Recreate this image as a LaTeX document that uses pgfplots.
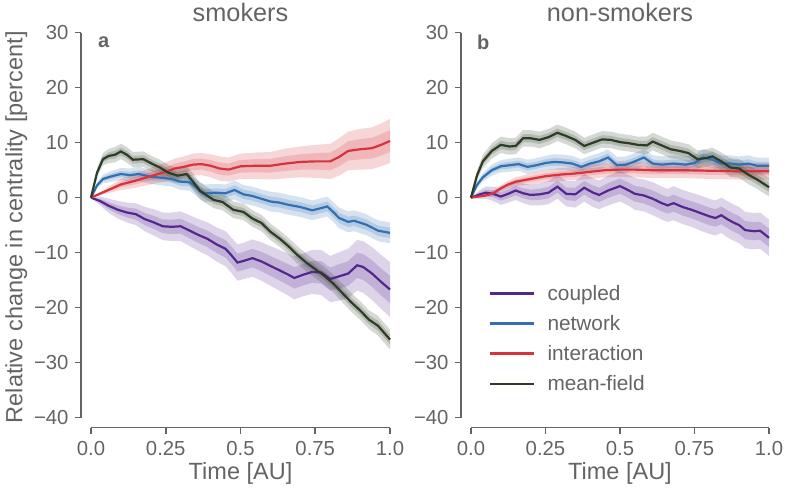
\documentclass[border=0pt]{standalone}
\usepackage{fontspec}
\setmainfont{Liberation Sans}
\usepackage{pgfplots}
\pgfplotsset{compat=1.18}
\usepackage{pgfplotstable}
\usepgfplotslibrary{fillbetween}

\definecolor{tgray}{RGB}{100,100,100}
\definecolor{cpl}{RGB}{84,39,143}
\definecolor{net}{RGB}{49,112,178}
\definecolor{int}{RGB}{214,52,60}
\definecolor{mf}{RGB}{45,60,38}

% smokers
\pgfplotstableread{
t y e
0 0 0
0.03 -0.6 0.8
0.06 -1.5 1.3
0.09 -2.2 1.6
0.12 -2.7 1.8
0.15 -3.0 2.0
0.18 -3.9 2.2
0.21 -4.5 2.4
0.24 -5.2 2.5
0.27 -5.3 2.6
0.30 -5.2 2.7
0.33 -6.0 2.8
0.36 -6.8 2.9
0.39 -7.5 3.0
0.42 -8.5 3.1
0.45 -9.3 3.2
0.47 -10.5 3.2
0.49 -11.8 3.3
0.51 -11.5 3.3
0.54 -11.0 3.4
0.57 -11.6 3.5
0.60 -12.4 3.6
0.63 -13.2 3.7
0.66 -14.0 3.8
0.68 -14.6 3.9
0.71 -14.0 3.9
0.74 -13.5 4.0
0.77 -13.6 4.1
0.80 -14.8 4.2
0.83 -14.3 4.4
0.86 -13.8 4.5
0.89 -12.3 4.6
0.91 -12.6 4.7
0.94 -13.8 4.8
0.97 -15.3 4.9
1.00 -16.7 5.0
}\smkCpl
\pgfplotstableread{
t y e
0 0 0
0.02 2.2 0.5
0.04 3.4 0.8
0.07 3.9 1.0
0.10 4.3 1.1
0.13 4.1 1.2
0.16 4.3 1.3
0.20 3.8 1.3
0.24 3.6 1.4
0.27 3.4 1.4
0.30 2.9 1.5
0.33 2.8 1.5
0.36 1.5 1.5
0.38 0.8 1.6
0.42 0.9 1.6
0.45 0.8 1.6
0.48 1.4 1.7
0.51 0.6 1.7
0.54 0.3 1.7
0.57 -0.2 1.7
0.60 -0.7 1.8
0.63 -0.9 1.8
0.66 -1.3 1.8
0.70 -1.7 1.8
0.74 -2.3 1.8
0.77 -1.9 1.8
0.79 -1.6 1.8
0.81 -2.6 1.8
0.83 -3.7 1.9
0.86 -4.4 1.9
0.88 -4.2 1.9
0.92 -4.9 1.9
0.96 -6.0 1.9
1.00 -6.4 1.9
}\smkNet
\pgfplotstableread{
t y e
0 0 0
0.05 1.2 0.5
0.10 2.4 1.0
0.15 3.1 1.3
0.20 3.9 1.5
0.25 4.7 1.7
0.28 5.3 1.8
0.31 5.6 1.9
0.34 6.0 2.0
0.37 6.1 2.0
0.40 5.8 2.1
0.43 5.3 2.2
0.46 5.1 2.2
0.50 5.7 2.3
0.55 5.8 2.4
0.60 5.8 2.5
0.65 6.2 2.7
0.70 6.5 2.8
0.75 6.6 3.0
0.80 6.6 3.2
0.83 7.4 3.4
0.86 8.5 3.5
0.90 8.8 3.7
0.94 9.0 3.8
0.97 9.6 3.9
1.00 10.3 4.0
}\smkInt
\pgfplotstableread{
t y e
0 0 0
0.02 4.5 0.8
0.04 7.0 1.1
0.06 7.6 1.3
0.08 7.8 1.4
0.10 8.4 1.4
0.12 7.8 1.4
0.14 6.9 1.4
0.175 7.0 1.4
0.21 6.0 1.4
0.23 5.5 1.4
0.26 4.5 1.4
0.29 4.0 1.4
0.32 4.3 1.4
0.34 3.0 1.5
0.365 1.2 1.5
0.41 -0.4 1.5
0.44 -0.8 1.5
0.476 -2.2 1.5
0.51 -2.6 1.5
0.54 -3.8 1.5
0.57 -4.6 1.5
0.60 -6.2 1.5
0.63 -7.4 1.5
0.66 -8.8 1.5
0.69 -10.4 1.6
0.72 -11.8 1.6
0.75 -13.0 1.6
0.78 -14.2 1.6
0.81 -15.6 1.6
0.84 -17.3 1.7
0.87 -19.0 1.7
0.90 -20.5 1.7
0.93 -22.2 1.7
0.96 -23.3 1.8
1.00 -25.8 1.8
}\smkMF

% non-smokers
\pgfplotstableread{
t y e
0 0 0
0.03 0.6 0.8
0.05 0.9 1.1
0.075 0.7 1.3
0.10 0.2 1.5
0.125 0.7 1.6
0.15 1.3 1.7
0.175 0.8 1.8
0.20 0.5 1.9
0.23 0.6 2.0
0.26 0.9 2.1
0.29 2.0 2.2
0.32 0.7 2.3
0.35 0.6 2.4
0.38 1.8 2.5
0.41 0.9 2.6
0.43 0.5 2.6
0.46 1.3 2.7
0.50 2.1 2.8
0.53 1.3 2.8
0.55 0.7 2.9
0.58 0.4 2.9
0.61 -0.2 3.0
0.64 -1.0 3.0
0.66 -1.4 3.0
0.68 -1.0 3.1
0.71 -1.7 3.1
0.74 -2.2 3.1
0.77 -2.8 3.2
0.80 -3.4 3.2
0.82 -3.7 3.2
0.84 -3.2 3.2
0.86 -3.9 3.3
0.88 -4.5 3.3
0.90 -5.0 3.3
0.92 -5.9 3.3
0.95 -6.1 3.3
0.97 -6.0 3.3
1.00 -7.3 3.3
}\nsCpl
\pgfplotstableread{
t y e
0 0 0
0.02 2.3 0.6
0.04 3.7 0.8
0.07 5.0 1.0
0.10 5.7 1.1
0.13 5.9 1.2
0.16 6.1 1.2
0.19 5.6 1.3
0.22 5.9 1.3
0.25 6.3 1.3
0.28 6.5 1.4
0.31 6.4 1.4
0.34 6.2 1.4
0.37 5.6 1.4
0.40 6.2 1.4
0.43 6.6 1.5
0.46 7.3 1.5
0.49 5.9 1.5
0.52 6.0 1.5
0.55 6.6 1.5
0.58 7.3 1.5
0.61 6.2 1.5
0.64 6.0 1.5
0.68 6.2 1.5
0.72 6.0 1.5
0.75 6.3 1.5
0.78 7.3 1.5
0.81 6.9 1.5
0.84 6.2 1.5
0.87 6.2 1.5
0.90 6.0 1.5
0.93 6.2 1.5
0.96 5.8 1.5
1.00 5.8 1.5
}\nsNet
\pgfplotstableread{
t y e
0 0 0
0.05 0.4 0.3
0.075 0.8 0.5
0.10 1.7 0.6
0.125 2.4 0.7
0.15 2.9 0.8
0.20 3.4 1.0
0.25 3.9 1.1
0.30 4.2 1.2
0.35 4.4 1.2
0.40 4.7 1.3
0.45 5.0 1.3
0.50 5.1 1.3
0.55 5.1 1.4
0.60 5.0 1.4
0.70 5.0 1.4
0.80 4.9 1.5
0.90 4.8 1.5
1.00 4.8 1.5
}\nsInt
\pgfplotstableread{
t y e
0 0 0
0.02 4.0 0.9
0.04 6.6 1.2
0.07 8.5 1.4
0.10 9.6 1.5
0.13 9.3 1.5
0.15 9.4 1.5
0.175 10.8 1.5
0.20 10.8 1.5
0.23 10.5 1.5
0.26 11.0 1.5
0.29 11.8 1.5
0.32 11.2 1.5
0.35 10.5 1.5
0.38 9.4 1.5
0.41 10.0 1.5
0.44 10.6 1.5
0.47 10.5 1.5
0.50 10.1 1.5
0.53 9.9 1.5
0.56 9.6 1.5
0.59 9.5 1.6
0.61 10.2 1.6
0.64 9.5 1.6
0.67 8.8 1.6
0.70 8.5 1.6
0.73 8.1 1.6
0.76 7.0 1.6
0.79 7.2 1.6
0.81 7.5 1.6
0.84 6.6 1.6
0.87 5.5 1.7
0.90 5.3 1.7
0.93 4.2 1.7
0.96 3.3 1.7
1.00 1.9 1.7
}\nsMF

\newcommand{\drawband}[3]{%
  \addplot[draw=none, forget plot, name path=#3uo] table[x=t, y expr=\thisrow{y}+\thisrow{e}] {#1};
  \addplot[draw=none, forget plot, name path=#3lo] table[x=t, y expr=\thisrow{y}-\thisrow{e}] {#1};
  \addplot[fill=#2, fill opacity=0.2, draw=none, forget plot] fill between[of=#3uo and #3lo];
  \addplot[draw=none, forget plot, name path=#3ui] table[x=t, y expr=\thisrow{y}+0.5*\thisrow{e}] {#1};
  \addplot[draw=none, forget plot, name path=#3li] table[x=t, y expr=\thisrow{y}-0.5*\thisrow{e}] {#1};
  \addplot[fill=#2, fill opacity=0.2, draw=none, forget plot] fill between[of=#3ui and #3li];
  \addplot[#2, line width=2.2pt, forget plot] table[x=t, y=y] {#1};
}

\pgfplotsset{panel/.style={
  scale only axis, height=395pt,
  xmin=-0.0334, xmax=1, ymin=-41.82, ymax=30,
  axis lines*=left, axis line style={draw=none},
  xtick={0,0.25,0.5,0.75,1}, xticklabels={0.0,0.25,0.5,0.75,1.0},
  ytick={-40,-30,-20,-10,0,10,20,30},
  yticklabels={−40,−30,−20,−10,0,10,20,30},
  tick align=outside, major tick length=6pt,
  tick style={tgray, line width=1.6pt},
  ticklabel style={font=\fontsize{20.3}{20.3}\selectfont, text=tgray},
  xticklabel style={yshift=-4pt},
  yticklabel style={xshift=-3pt},
  title style={font=\fontsize{25.3}{25.3}\selectfont, text=tgray, at={(0.5162,1)}, anchor=base, yshift=5pt},
  label style={font=\fontsize{23.5}{23.5}\selectfont, text=tgray},
  xlabel={Time [AU]},
  xlabel style={at={(ticklabel cs:0.5162)}},
  clip=false,
}}

\begin{document}
\begin{tikzpicture}
\path (0pt,0pt) rectangle (787pt,491pt);
\begin{axis}[panel, width=309pt, at={(81pt,68pt)}, anchor=south west,
  title={smokers},
  ylabel={Relative change in centrality [percent]},
  ylabel style={at={(ticklabel cs:0.5127)}, xshift=-2pt}]
  \drawband{\smkCpl}{cpl}{sa}
  \drawband{\smkNet}{net}{sb}
  \drawband{\smkInt}{int}{sc}
  \drawband{\smkMF}{mf}{sd}
  \draw[tgray, line width=1.6pt] (axis cs:-0.0334,-40) -- (axis cs:-0.0334,30);
  \draw[tgray, line width=1.6pt] (axis cs:0,-41.82) -- (axis cs:1,-41.82);
  \node[font=\bfseries\fontsize{20}{20}\selectfont, text=tgray, anchor=base west, inner sep=0pt] at (axis cs:0.023,27.3) {a};
\end{axis}
\begin{axis}[panel, width=308pt, at={(461pt,68pt)}, anchor=south west,
  title={non-smokers},
  legend style={at={(0.0904,0.3665)}, anchor=north west, draw=none, fill=none,
    inner sep=0pt, font=\fontsize{20.8}{20.8}\selectfont, text=tgray, row sep=9.6pt,
    /tikz/every odd column/.append style={column sep=10pt}},
  legend cell align=left,
  legend image code/.code={\draw[#1, line width=2.5pt] (0pt,0pt) -- (44pt,0pt);}]
  \drawband{\nsCpl}{cpl}{na}
  \drawband{\nsNet}{net}{nb}
  \drawband{\nsInt}{int}{nc}
  \drawband{\nsMF}{mf}{nd}
  \draw[tgray, line width=1.6pt] (axis cs:-0.0334,-40) -- (axis cs:-0.0334,30);
  \draw[tgray, line width=1.6pt] (axis cs:0,-41.82) -- (axis cs:1,-41.82);
  \node[font=\bfseries\fontsize{20}{20}\selectfont, text=tgray, anchor=base west, inner sep=0pt] at (axis cs:0.02,27.0) {b};
  \addlegendimage{cpl}\addlegendentry{coupled}
  \addlegendimage{net}\addlegendentry{network}
  \addlegendimage{int}\addlegendentry{interaction}
  \addlegendimage{mf}\addlegendentry{mean-field}
\end{axis}
\end{tikzpicture}
\end{document}
